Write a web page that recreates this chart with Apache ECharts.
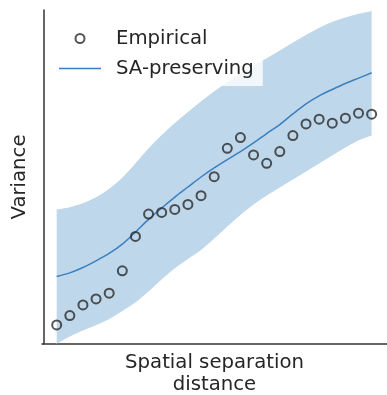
<!DOCTYPE html>
<html>
<head>
<meta charset="utf-8">
<script src="https://cdn.jsdelivr.net/npm/echarts@6/dist/echarts.min.js"></script>
<style>
html,body{margin:0;padding:0;background:#fff;}
#chart{width:387px;height:395px;}
</style>
</head>
<body>
<div id="chart"></div>
<script>
// Separation distance (lag index)
var distances = [1,2,3,4,5,6,7,8,9,10,11,12,13,14,15,16,17,18,19,20,21,22,23,24,25];
// Empirical variance
var empirical = [5.7,8.5,11.7,13.5,15.2,21.9,32.2,38.9,39.4,40.3,41.8,44.4,50.1,58.6,61.8,56.6,54.1,57.6,62.4,65.9,67.3,66.1,67.6,69.1,68.8];
// SA-preserving model (mean)
var saMean = [20.2,21.3,22.9,24.9,27.1,29.9,33.5,37.3,40.7,44.0,47.0,50.0,52.7,55.2,57.6,60.2,63.0,65.7,68.9,71.9,74.3,76.2,78.0,79.6,81.2];
// SA-preserving envelope
var saUpper = [40.1,40.8,42.0,43.8,46.3,49.6,53.9,58.4,62.4,66.0,69.3,72.5,75.5,78.2,80.8,83.2,85.4,87.7,90.1,92.4,94.5,96.3,97.6,98.7,99.5];
var saLower = [0.2,2.4,4.2,5.8,7.6,10.0,12.6,15.9,19.5,22.8,25.6,28.3,31.7,35.3,38.8,41.9,44.6,47.0,49.4,51.8,54.2,56.6,59.0,61.1,62.6];

var chart = echarts.init(document.getElementById('chart'), null, {renderer:'canvas'});
var font = 'DejaVu Sans';
var fs = 19.7;
function pairs(xs, ys){ return xs.map(function(x,i){ return [x, ys[i]]; }); }

chart.setOption({
  animation: false,
  backgroundColor: '#fff',
  textStyle: {fontFamily: font},
  grid: {left: 42, right: 0, top: 10, bottom: 51, containLabel: false, outerBoundsMode: 'none'},
  legend: {
    orient: 'vertical',
    left: 50, top: 21,
    padding: [7, 9, 7, 9],
    itemWidth: 42, itemHeight: 9,
    itemGap: 9,
    backgroundColor: 'rgba(255,255,255,0.8)',
    textStyle: {fontFamily: font, fontSize: fs, color: '#262626', lineHeight: 21, padding: [0,0,0,10]},
    data: [
      {name: 'Empirical', icon: 'circle', itemStyle: {color: 'rgba(0,0,0,0)', borderColor: '#2b2b2b', borderWidth: 2}},
      {name: 'SA-preserving', icon: 'path://M0,0L42,0L42,1.5L0,1.5Z', itemStyle: {color: '#3a7fc0'}}
    ]
  },
  xAxis: {
    type: 'value', min: -0.12, max: 26.17,
    name: 'Spatial separation\ndistance',
    nameLocation: 'middle', nameGap: 8,
    nameTextStyle: {fontFamily: font, fontSize: fs, color: '#262626', lineHeight: 22, verticalAlign: 'top'},
    axisLine: {show: true, lineStyle: {color: '#333', width: 1.5}},
    axisTick: {show: false}, axisLabel: {show: false}, splitLine: {show: false}
  },
  yAxis: {
    type: 'value', min: 0, max: 100,
    name: 'Variance',
    nameLocation: 'middle', nameGap: 12,
    nameTextStyle: {fontFamily: font, fontSize: fs, color: '#262626'},
    axisLine: {show: true, lineStyle: {color: '#333', width: 1.5}},
    axisTick: {show: false}, axisLabel: {show: false}, splitLine: {show: false}
  },
  series: [
    {
      name: 'band', type: 'custom', silent: true, z: 1,
      data: [0],
      encode: {x: -1, y: -1},
      renderItem: function(params, api){
        var up = [], lo = [];
        for (var i = 0; i < distances.length; i++) {
          up.push(api.coord([distances[i], saUpper[i]]));
          lo.push(api.coord([distances[i], saLower[i]]));
        }
        var fill = 'rgb(191,215,234)';
        var lo2 = lo.slice().reverse();
        var pts = up.concat(lo2);
        return {
          type: 'group',
          children: [
            {type: 'polyline', shape: {points: up, smooth: 0.3}, style: {stroke: fill, lineWidth: 1, fill: null}},
            {type: 'polyline', shape: {points: lo, smooth: 0.3}, style: {stroke: fill, lineWidth: 1, fill: null}},
            {type: 'polygon', shape: {points: pts}, style: {fill: fill}}
          ]
        };
      }
    },
    {
      name: 'SA-preserving', type: 'line',
      data: pairs(distances, saMean), symbol: 'none', smooth: 0.3,
      lineStyle: {color: '#3a7fc0', width: 1.5}, itemStyle: {color: '#3a7fc0'}, z: 2
    },
    {
      name: 'Empirical', type: 'scatter',
      data: pairs(distances, empirical), symbol: 'circle', symbolSize: 9,
      itemStyle: {color: 'rgba(0,0,0,0)', borderColor: '#2b2b2b', borderWidth: 2}, z: 3
    }
  ]
});
</script>
</body>
</html>
